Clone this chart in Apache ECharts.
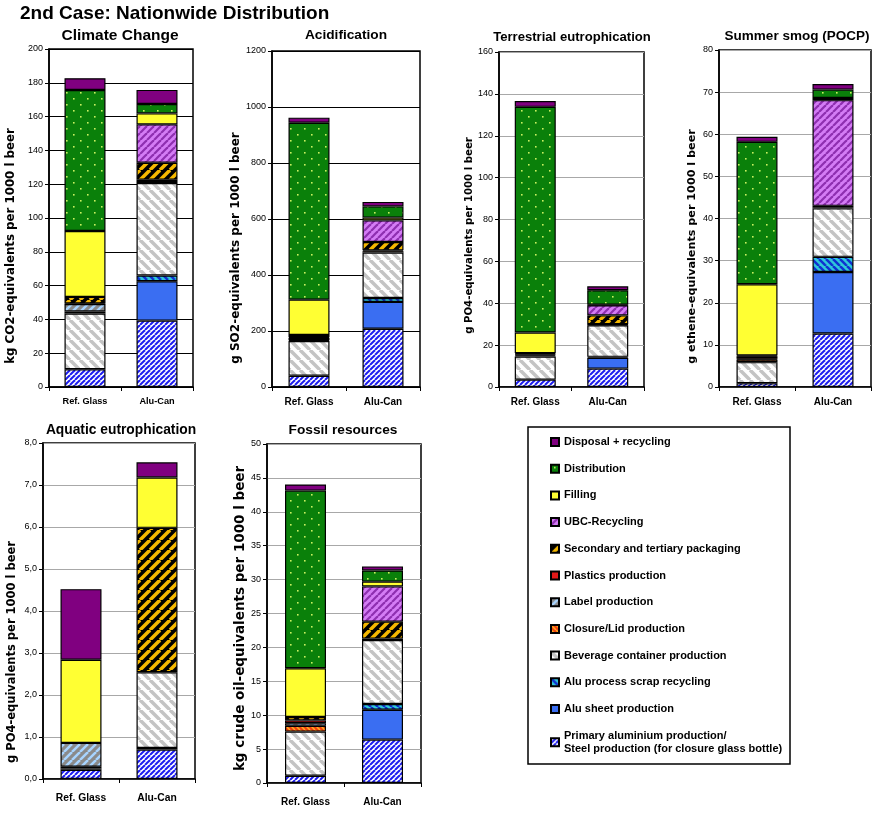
<!DOCTYPE html>
<html><head><meta charset="utf-8">
<script src="https://cdn.jsdelivr.net/npm/echarts@6/dist/echarts.min.js"></script>
<style>html,body{margin:0;padding:0;background:#fff}#chart{width:881px;height:817px}</style>
</head><body><div id="chart"></div>
<script>
// ---------------- data ----------------
const categories = ['Ref. Glass', 'Alu-Can'];
// life-cycle stages, stacked bottom -> top
const stageNames = [
  'Primary aluminium production/\nSteel production (for closure glass bottle)',
  'Alu sheet production',
  'Alu process scrap recycling',
  'Beverage container production',
  'Closure/Lid production',
  'Label production',
  'Plastics production',
  'Secondary and tertiary packaging',
  'UBC-Recycling',
  'Filling',
  'Distribution',
  'Disposal + recycling'
];
const panelTitles = ['Climate Change', 'Acidification', 'Terrestrial eutrophication', 'Summer smog (POCP)', 'Aquatic eutrophication', 'Fossil resources'];
const yAxisNames = [
  'kg CO2-equivalents per 1000 l beer',
  'g SO2-equivalents per 1000 l beer',
  'g PO4-equivalents per 1000 l beer',
  'g ethene-equivalents per 1000 l beer',
  'g PO4-equivalents per 1000 l beer',
  'kg crude oil-equivalents per 1000 l beer'
];
const yMax = [200, 1200, 160, 80, 8, 50];
const yStep = [20, 200, 20, 10, 1, 5];

// values per stage (same order as stageNames)
const climateGlass = [10.5, 0, 0, 33, 1.2, 4.4, 0.3, 3.9, 0, 39, 83.4, 7];
const climateAlu   = [39.3, 23.3, 3.4, 54.7, 1.2, 0, 0.8, 10, 22.7, 6.5, 5.6, 8.3];
const acidGlass    = [40, 0, 0, 124, 3, 8, 3, 8, 0, 126, 632, 18];
const acidAlu      = [208, 96, 14, 162, 5, 0, 3, 30, 77, 10, 40, 16];
const terrGlass    = [3.5, 0, 0, 11.1, 0.4, 0.5, 0.3, 0.4, 0, 9.8, 107.8, 2.8];
const terrAlu      = [8.8, 5.2, 0.4, 15.1, 0.3, 0, 0.2, 4.2, 4.8, 0.3, 6.9, 1.9];
const smogGlass    = [0.9, 0, 0, 5.0, 0.6, 0.2, 0.6, 0.2, 0, 16.9, 33.8, 1.2];
const smogAlu      = [12.7, 14.6, 3.6, 11.5, 0.3, 0, 0, 0.3, 25.1, 0.5, 2.0, 1.3];
const aquaGlass    = [0.22, 0, 0, 0.03, 0.04, 0.57, 0, 0, 0, 1.98, 0, 1.68];
const aquaAlu      = [0.70, 0.04, 0, 1.80, 0, 0, 0, 3.44, 0, 1.20, 0, 0.36];
const fossilGlass  = [1.08, 0, 0, 6.5, 0.85, 0.4, 0.4, 0.5, 0, 7.2, 26.2, 0.9];
const fossilAlu    = [6.4, 4.4, 0.85, 9.45, 0.2, 0, 0, 2.5, 5.2, 0.7, 1.65, 0.6];

const panelGlass = [climateGlass, acidGlass, terrGlass, smogGlass, aquaGlass, fossilGlass];
const panelAlu = [climateAlu, acidAlu, terrAlu, smogAlu, aquaAlu, fossilAlu];

// ---------------- styles ----------------
const FONT = "'Liberation Sans', Arial, sans-serif";
const NAMEFONT = "'DejaVu Sans', 'Liberation Sans', sans-serif";
const grids = [
  {left: 49, top: 49, width: 144, height: 338},
  {left: 272, top: 51, width: 148, height: 336},
  {left: 499, top: 52, width: 145, height: 335},
  {left: 719, top: 50, width: 152, height: 337},
  {left: 43, top: 443, width: 152, height: 336},
  {left: 267, top: 444, width: 154, height: 339}
];
const titlePos = [[120, 28], [346, 28.5], [572, 30.5], [797, 29.5], [121, 423.5], [343, 423.5]];
const titleSizes = [15.5, 13.7, 13.1, 13.5, 13.8, 13.7];
const nameGaps = [32, 27, 24, 21, 25, 20];
const nameShift = [28, 29, 16, 28, 41, 5];
const nameSizes = [11.8, 12, 10.2, 11.2, 11.5, 13.5];
const xLabelSizes = [9.2, 10, 10, 10, 10.3, 10];
const labelMargins = [10, 10, 10, 10, 14, 14];
const splitColors = ['#000', '#000', '#a8a8a8', '#a8a8a8', '#a8a8a8', '#a8a8a8'];
const splitWidths = [1.2, 1.2, 1, 1, 1, 1];

function tile(w, h, bg, draw) {
  const c = document.createElement('canvas');
  c.width = w; c.height = h;
  const g = c.getContext('2d');
  g.fillStyle = bg; g.fillRect(0, 0, w, h);
  draw(g);
  return {image: c, repeat: 'repeat'};
}
function stripes(s, bg, fg, lw, dir) {
  return tile(s, s, bg, g => {
    g.strokeStyle = fg; g.lineWidth = lw;
    for (let k = -1; k <= 1; k++) {
      g.beginPath();
      if (dir > 0) { g.moveTo(k * s, s); g.lineTo(k * s + s, 0); }
      else { g.moveTo(k * s, 0); g.lineTo(k * s + s, s); }
      g.stroke();
    }
  });
}
const dots = tile(14, 12, '#0a800a', g => {
  g.fillStyle = '#c8f060';
  g.fillRect(3, 2, 1.6, 1.6);
  g.fillRect(10, 8, 1.6, 1.6);
});
const fills = [
  stripes(5, '#ffffff', '#1c1cf0', 2, 1),
  '#3a6ef2',
  stripes(7, '#30c8d8', '#1030d0', 2.5, -1),
  stripes(10, '#ffffff', '#c4c4c4', 3.5, -1),
  stripes(5, '#f04010', '#ffb020', 1.5, -1),
  stripes(8, '#8a8a8a', '#a8d4ff', 2.5, 1),
  '#e01818',
  stripes(10, '#000000', '#f5b800', 3.5, 1),
  stripes(7, '#d47cf5', '#8e2fb0', 2.2, 1),
  '#ffff33',
  dots,
  '#800080'
];

const nz = v => (v === 0 ? '-' : v);

const title = [{
  text: '2nd Case: Nationwide Distribution', left: 20, top: 4, padding: 0,
  textStyle: {fontFamily: FONT, fontWeight: 'bold', fontSize: 19, color: '#000'}
}];
const grid = [], xAxis = [], yAxis = [], series = [];
for (let p = 0; p < 6; p++) {
  title.push({
    text: panelTitles[p], left: titlePos[p][0], top: titlePos[p][1], textAlign: 'center', padding: 0,
    textStyle: {fontFamily: FONT, fontWeight: 'bold', fontSize: titleSizes[p], color: '#000'}
  });
  grid.push(Object.assign({show: true, borderColor: '#000', borderWidth: 1.5, backgroundColor: '#fff', containLabel: false, outerBoundsMode: 'none'}, grids[p]));
  xAxis.push({
    type: 'category', gridIndex: p, data: categories,
    axisLine: {lineStyle: {color: '#000', width: 1.5}},
    axisTick: {show: true, length: 4, lineStyle: {color: '#000', width: 1}},
    axisLabel: {fontFamily: FONT, fontWeight: 'bold', fontSize: xLabelSizes[p], color: '#000', margin: labelMargins[p]}
  });
  yAxis.push({
    type: 'value', gridIndex: p, min: 0, max: yMax[p], interval: yStep[p],
    axisLine: {show: true, lineStyle: {color: '#000', width: 1.5}},
    axisTick: {show: true, length: 4, lineStyle: {color: '#000', width: 1}},
    axisLabel: {
      fontFamily: FONT, fontSize: 9, color: '#000', margin: 6,
      formatter: p === 4 ? (v => v.toFixed(1).replace('.', ',')) : (v => String(v))
    },
    splitLine: {show: true, lineStyle: {color: splitColors[p], width: splitWidths[p]}},
    name: yAxisNames[p], nameLocation: 'middle', nameGap: nameGaps[p],
    nameTextStyle: {fontFamily: NAMEFONT, fontWeight: 'bold', fontSize: nameSizes[p], color: '#000', padding: [0, 2 * nameShift[p], 0, 0]}
  });
  for (let s = 0; s < stageNames.length; s++) {
    series.push({
      name: stageNames[s], type: 'bar', xAxisIndex: p, yAxisIndex: p, stack: 'panel' + p,
      barWidth: 41,
      data: [nz(panelGlass[p][s]), nz(panelAlu[p][s])],
      itemStyle: {color: fills[s], borderColor: '#000', borderWidth: 1.2},
      emphasis: {disabled: true}
    });
  }
}

const chart = echarts.init(document.getElementById('chart'), null, {renderer: 'canvas'});
chart.setOption({
  animation: false,
  backgroundColor: '#fff',
  title, grid, xAxis, yAxis, series,
  legend: {
    orient: 'vertical', left: 550, top: 435.5, padding: 0,
    itemWidth: 8, itemHeight: 8, itemGap: 13.7, icon: 'rect',
    selectedMode: false,
    data: stageNames.slice().reverse(),
    textStyle: {fontFamily: FONT, fontWeight: 'bold', fontSize: 11, color: '#000', lineHeight: 13}
  },
  graphic: [{
    type: 'rect', z: -10,
    shape: {x: 528, y: 427, width: 262, height: 337},
    style: {fill: '#fff', stroke: '#000', lineWidth: 1.5}
  }]
});
</script></body></html>
